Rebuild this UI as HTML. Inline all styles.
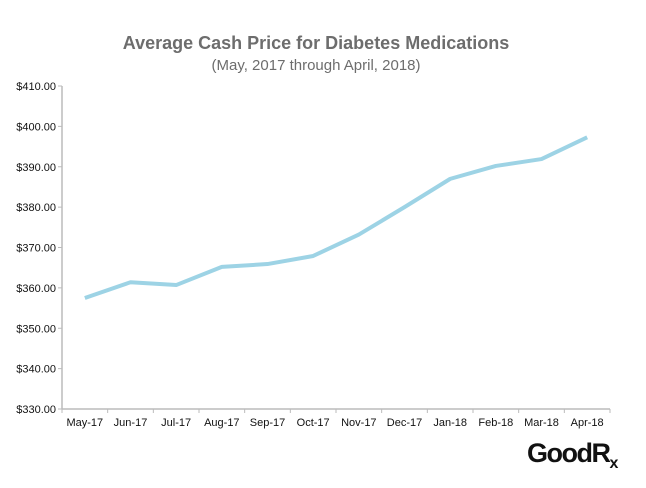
<!DOCTYPE html>
<html><head><meta charset="utf-8"><style>
body{margin:0;background:#fff;width:646px;height:483px;overflow:hidden;font-family:"Liberation Sans",Arial,sans-serif}
</style></head><body>
<svg width="646" height="483">
<text x="316" y="49" text-anchor="middle" font-size="18" font-weight="bold" fill="#6d6d6d">Average Cash Price for Diabetes Medications</text>
<text x="316" y="70" text-anchor="middle" font-size="15" fill="#6d6d6d">(May, 2017 through April, 2018)</text>
<g id="axes"></g>
<g id="marks"></g>
<text x="572" y="462" text-anchor="middle" font-size="27" font-weight="bold" fill="#111" letter-spacing="-1.5">GoodR<tspan font-size="16" dy="6">x</tspan></text>
</svg>
<script>
const categories=["May-17","Jun-17","Jul-17","Aug-17","Sep-17","Oct-17","Nov-17","Dec-17","Jan-18","Feb-18","Mar-18","Apr-18"];
const prices=[357.5,361.4,360.7,365.2,365.9,367.9,373.2,380.0,387.0,390.2,391.9,397.3];
const yTicks=[330,340,350,360,370,380,390,400,410];
const NS="http://www.w3.org/2000/svg";
const x0=62,x1=610,y0=409,y1=86,vmin=330,vmax=410;
const bw=(x1-x0)/categories.length;
const xs=i=>x0+bw*(i+0.5);
const ys=v=>y0-(v-vmin)/(vmax-vmin)*(y0-y1);
const axes=document.getElementById('axes'),marks=document.getElementById('marks');
function el(t,a,p){const e=document.createElementNS(NS,t);for(const k in a)e.setAttribute(k,a[k]);p.appendChild(e);return e;}
const ya=el('line',{x1:x0,y1:y1,x2:x0,y2:y0,stroke:'#bbb','stroke-width':1.5},axes);


const xa=el('line',{x1:x0,y1:y0,x2:x1,y2:y0,stroke:'#bbb','stroke-width':1.5},axes);


yTicks.forEach(v=>{
 const y=ys(v);
 el('line',{x1:x0-4,y1:y,x2:x0,y2:y,stroke:'#bbb'},axes);
 const t=el('text',{x:x0-6,y:y+4,'text-anchor':'end','font-size':11,fill:'#111'},axes);
 t.textContent='$'+v.toFixed(2);
 
 
});
for(let i=0;i<=categories.length;i++){el('line',{x1:x0+bw*i,y1:y0,x2:x0+bw*i,y2:y0+4,stroke:'#bbb'},axes);}
categories.forEach((c,i)=>{
 const t=el('text',{x:xs(i),y:y0+17,'text-anchor':'middle','font-size':11,fill:'#111'},axes);
 t.textContent=c;
 
 
});
const line=el('polyline',{points:prices.map((v,i)=>xs(i)+','+ys(v)).join(' '),fill:'none',stroke:'#9dd3e5','stroke-width':4,'stroke-linejoin':'round'},marks);


</script>
</body></html>
